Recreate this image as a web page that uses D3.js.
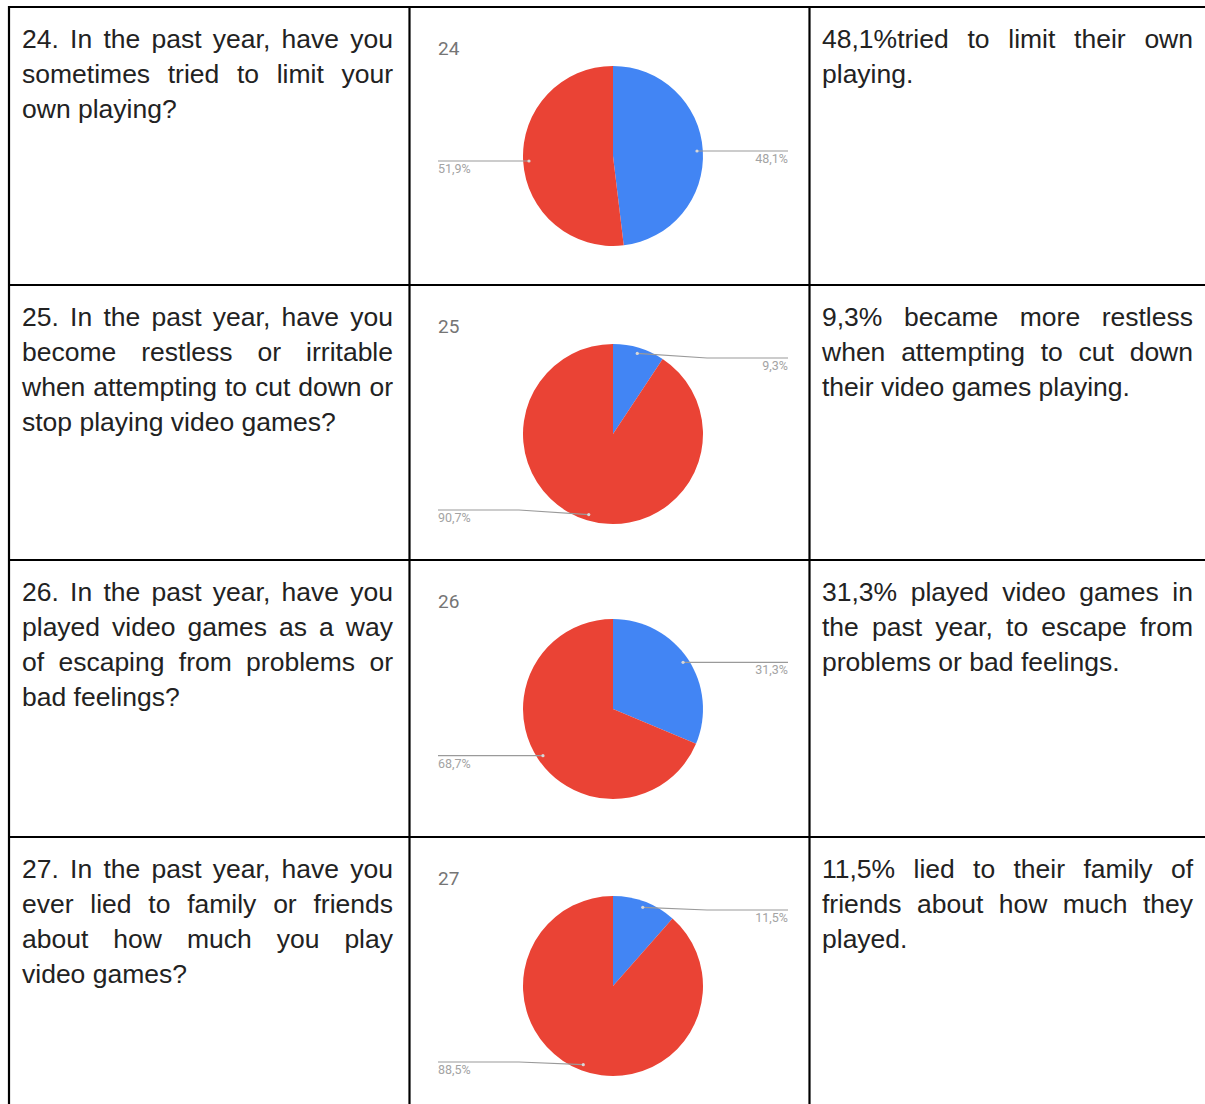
<!DOCTYPE html>
<html><head><meta charset="utf-8">
<script src="https://cdn.jsdelivr.net/npm/d3@7"></script>
<style>
html,body{margin:0;padding:0;background:#fff;}
svg{display:block;}
</style></head><body>
<script>
// ---------- data ----------
const chartTitles = ["24", "25", "26", "27"];
const yesValues = [48.1, 9.3, 31.3, 11.5];
const noValues  = [51.9, 90.7, 68.7, 88.5];
const questionLines = [
  ["24. In the past year, have you", "sometimes tried to limit your", "own playing?"],
  ["25. In the past year, have you", "become restless or irritable", "when attempting to cut down or", "stop playing video games?"],
  ["26. In the past year, have you", "played video games as a way", "of escaping from problems or", "bad feelings?"],
  ["27. In the past year, have you", "ever lied to family or friends", "about how much you play", "video games?"]
];
const answerLines = [
  ["48,1%tried to limit their own", "playing."],
  ["9,3% became more restless", "when attempting to cut down", "their video games playing."],
  ["31,3% played video games in", "the past year, to escape from", "problems or bad feelings."],
  ["11,5% lied to their family of", "friends about how much they", "played."]
];
const sliceColors = ["#4285F4", "#EA4335"];

// ---------- layout ----------
const W = 1205, H = 1104;
const rowLines = [7, 285, 560, 837];
const colLines = [9, 409.5, 809.5];
const textW = 371, lineH = 35;
const R = 90;

const svg = d3.select("body").append("svg").attr("width", W).attr("height", H);

const fmt = v => d3.format(".1f")(v).replace(".", ",") + "%";
const FONT = "'Liberation Sans', Arial, sans-serif";

// text helper: justified lines except the last
function drawParagraph(g, lines, x0, y0) {
  lines.forEach((ln, i) => {
    const y = y0 + i * lineH;
    const words = ln.split(" ");
    const t = g.append("g");
    const nodes = words.map(w => t.append("text")
      .attr("y", y)
      .attr("font-family", FONT)
      .attr("font-size", 26.5).attr("fill", "#222").text(w));
    const widths = nodes.map(n => n.node().getComputedTextLength());
    let gap;
    if (i < lines.length - 1 && words.length > 1) {
      gap = (textW - d3.sum(widths)) / (words.length - 1);
    } else {
      const probe = t.append("text").attr("font-family", FONT).attr("font-size", 26.5).text("a a");
      const probe2 = t.append("text").attr("font-family", FONT).attr("font-size", 26.5).text("aa");
      gap = probe.node().getComputedTextLength() - probe2.node().getComputedTextLength();
      probe.remove(); probe2.remove();
    }
    let x = x0;
    nodes.forEach((n, k) => { n.attr("x", x); x += widths[k] + gap; });
  });
}

const pie = d3.pie().sort(null).value(d => d);
const arc = d3.arc().innerRadius(0).outerRadius(R);
const dotArc = d3.arc().innerRadius(R * 0.935).outerRadius(R * 0.935);

chartTitles.forEach((title, r) => {
  const top = rowLines[r];
  // texts
  drawParagraph(svg.append("g"), questionLines[r], 22, top + 41);
  drawParagraph(svg.append("g"), answerLines[r], 822, top + 41);

  // chart
  const cx = 613, cy = top + 149;
  const left = 438, right = 788;
  svg.append("text").attr("x", left).attr("y", top + 48)
    .attr("font-family", "Roboto, Arial, sans-serif").attr("font-size", 19)
    .attr("fill", "#757575").text(title);
  const g = svg.append("g").attr("transform", `translate(${cx},${cy})`);
  const arcs = pie([yesValues[r], noValues[r]]);
  g.selectAll("path.slice").data(arcs).join("path")
    .attr("class", "slice").attr("d", arc)
    .attr("fill", (d, i) => sliceColors[i]);

  arcs.forEach(a => {
    const [dx, dy] = dotArc.centroid(a);
    const ly = Math.max(-76, Math.min(76, dy));
    const isRight = dx > 0;
    const elbow = isRight ? R + 4 : -(R + 4);
    const end = isRight ? right - cx : left - cx;
    const pts = [[dx, dy], [elbow, ly], [end, ly]];
    g.append("path").attr("d", d3.line()(pts))
      .attr("fill", "none").attr("stroke", "#9a9a9a").attr("stroke-width", 1.2);
    g.append("circle").attr("cx", dx).attr("cy", dy).attr("r", 1.6)
      .attr("fill", "#d8d8d8");
    g.append("text").attr("x", end).attr("y", ly + 12)
      .attr("text-anchor", isRight ? "end" : "start")
      .attr("font-family", "Roboto, Arial, sans-serif").attr("font-size", 12.5)
      .attr("fill", "#a3a3a3").text(fmt(a.data));
  });
});

// table borders
const bg = svg.append("g").attr("stroke", "#000").attr("stroke-width", 2.2);
rowLines.forEach(y => bg.append("line").attr("x1", colLines[0] - 1).attr("x2", W + 5).attr("y1", y).attr("y2", y));
colLines.forEach(x => bg.append("line").attr("x1", x).attr("x2", x).attr("y1", rowLines[0] - 1).attr("y2", H + 5));
</script>
</body></html>
